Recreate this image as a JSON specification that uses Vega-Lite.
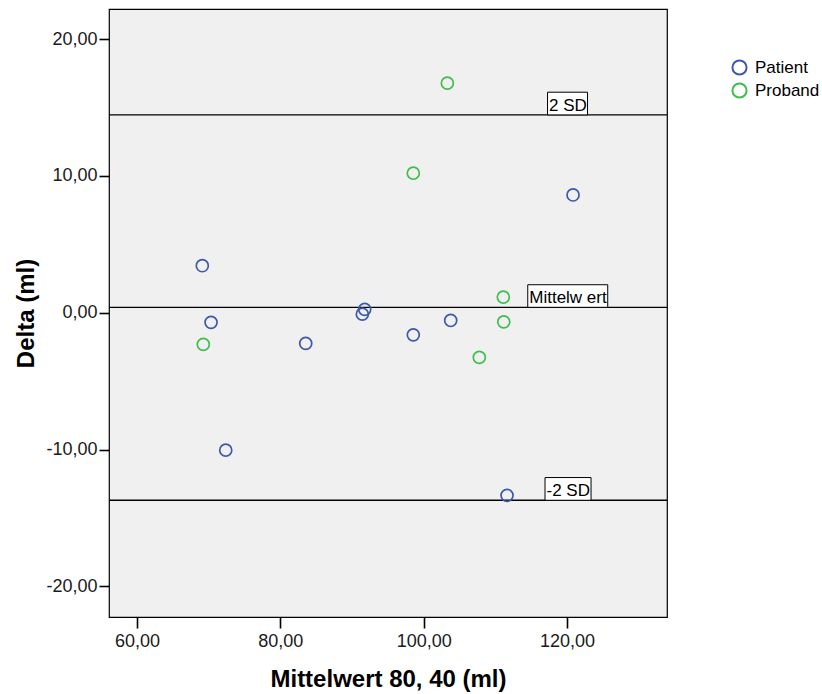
{
  "$schema": "https://vega.github.io/schema/vega-lite/v6.json",
  "width": 558,
  "height": 608,
  "autosize": {"type": "none"},
  "padding": {"left": 109, "top": 9, "right": 155, "bottom": 77},
  "background": "white",
  "config": {
    "font": "Liberation Sans",
    "view": {"fill": "#F0F0F0", "stroke": "#000000", "strokeWidth": 1.2},
    "axis": {
      "domain": false,
      "grid": false,
      "tickColor": "#000000",
      "tickWidth": 1.6,
      "labelColor": "#1a1a1a",
      "labelFont": "Liberation Sans",
      "labelFontSize": 18,
      "titleFont": "Liberation Sans",
      "titleFontSize": 24,
      "titleFontWeight": "bold",
      "titleColor": "#000000",
      "labelExpr": "(datum.value < 0 ? '-' : '') + replace(format(abs(datum.value), '.2f'), '.', ',')"
    }
  },
  "datasets": {
    "points": [
      {"group": "Patient", "mean": 69.11, "delta": 3.44},
      {"group": "Patient", "mean": 70.33, "delta": -0.70},
      {"group": "Patient", "mean": 72.38, "delta": -10.04},
      {"group": "Patient", "mean": 83.54, "delta": -2.24},
      {"group": "Patient", "mean": 91.44, "delta": -0.10},
      {"group": "Patient", "mean": 91.77, "delta": 0.25},
      {"group": "Patient", "mean": 98.55, "delta": -1.61},
      {"group": "Patient", "mean": 103.77, "delta": -0.56},
      {"group": "Patient", "mean": 120.84, "delta": 8.61},
      {"group": "Patient", "mean": 111.63, "delta": -13.34},
      {"group": "Proband", "mean": 103.30, "delta": 16.78},
      {"group": "Proband", "mean": 98.55, "delta": 10.20},
      {"group": "Proband", "mean": 69.25, "delta": -2.31},
      {"group": "Proband", "mean": 111.11, "delta": 1.15},
      {"group": "Proband", "mean": 111.17, "delta": -0.66},
      {"group": "Proband", "mean": 107.76, "delta": -3.26}
    ],
    "lines": [
      {"label": "2 SD", "value": 14.46, "x1": 117.28, "x2": 122.86, "top": 16.12},
      {"label": "Mittelw ert", "value": 0.40, "x1": 114.52, "x2": 125.68, "top": 2.05},
      {"label": "-2 SD", "value": -13.70, "x1": 116.93, "x2": 123.35, "top": -12.04}
    ]
  },
  "encoding": {
    "x": {"type": "quantitative"},
    "y": {"type": "quantitative"}
  },
  "layer": [
    {
      "data": {"name": "lines"},
      "mark": {"type": "rule", "color": "#000000", "strokeWidth": 1.3},
      "encoding": {
        "y": {"field": "value", "type": "quantitative", "scale": {"domain": [-22.23, 22.2], "nice": false, "zero": false},
          "axis": {"values": [-20, -10, 0, 10, 20], "title": "Delta (ml)", "tickSize": 10, "labelPadding": 2, "titlePadding": 7}}
      }
    },
    {
      "data": {"name": "lines"},
      "mark": {"type": "rect", "fill": "#ffffff", "stroke": "#000000", "strokeWidth": 1},
      "encoding": {
        "x": {"field": "x1", "type": "quantitative"},
        "x2": {"field": "x2"},
        "y": {"field": "value", "type": "quantitative"},
        "y2": {"field": "top"}
      }
    },
    {
      "data": {"name": "lines"},
      "mark": {"type": "text", "align": "left", "baseline": "alphabetic", "fontSize": 17, "dx": 1.5, "dy": -4, "color": "#000000"},
      "encoding": {
        "x": {"field": "x1", "type": "quantitative"},
        "y": {"field": "value", "type": "quantitative"},
        "text": {"field": "label"}
      }
    },
    {
      "data": {"name": "points"},
      "mark": {"type": "point", "shape": "circle", "filled": false, "size": 145, "strokeWidth": 1.7, "opacity": 1},
      "encoding": {
        "x": {"field": "mean", "type": "quantitative", "scale": {"domain": [56.09, 133.95], "nice": false, "zero": false},
          "axis": {"values": [60, 80, 100, 120], "title": "Mittelwert 80, 40 (ml)", "tickSize": 11, "labelPadding": 4, "titlePadding": 17}},
        "y": {"field": "delta", "type": "quantitative"},
        "color": {
          "field": "group",
          "type": "nominal",
          "scale": {"domain": ["Patient", "Proband"], "range": ["#3E58AC", "#3EBE4A"]},
          "legend": {
            "orient": "none",
            "legendX": 622,
            "legendY": 50,
            "title": null,
            "padding": 0,
            "labelFontSize": 17,
            "labelColor": "#000000",
            "labelOffset": 7,
            "symbolType": "circle",
            "symbolSize": 200,
            "symbolStrokeWidth": 2,
            "rowPadding": 0
          }
        }
      }
    }
  ]
}
